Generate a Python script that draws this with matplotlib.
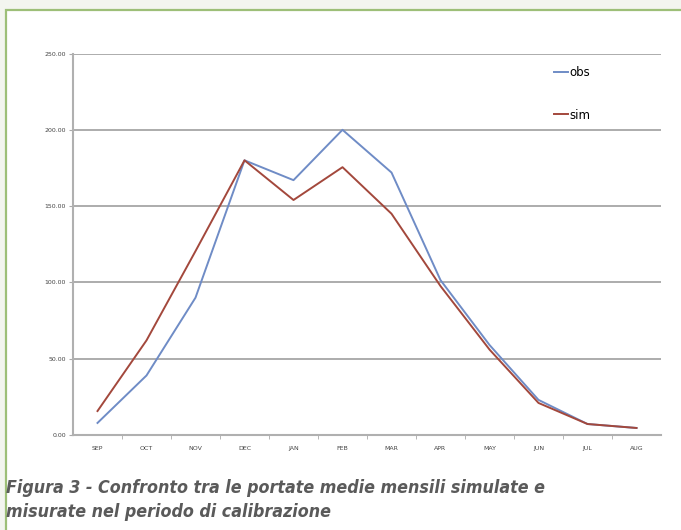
import matplotlib.pyplot as plt
from matplotlib.patches import Rectangle

months = ['SEP', 'OCT', 'NOV', 'DEC', 'JAN', 'FEB', 'MAR', 'APR', 'MAY', 'JUN', 'JUL', 'AUG']
obs = [7.9, 39, 90, 180, 167, 200, 172, 101.5, 59, 23, 7.2, 4.6]
sim = [15.7, 62, 120.5, 180, 154, 175.5, 145, 97.6, 56, 21, 7.2, 4.6]
yticks = [0, 50, 100, 150, 200, 250]

fig = plt.figure(figsize=(6.81, 5.30), dpi=100)
fig.patch.set_facecolor('#f3f5ef')

# green frame
fig.patches.append(Rectangle((6 / 681, -0.01), 1.0, 1 - 9.5 / 530 + 0.01,
                             transform=fig.transFigure, facecolor='white',
                             edgecolor='#9dbf78', linewidth=1.6, zorder=-5))

ax = fig.add_axes([73 / 681, 1 - 435 / 530, 588 / 681, 381.5 / 530])
ax.set_facecolor('none')
ax.set_zorder(2)

x = list(range(len(months)))
ax.plot(x, obs, color='#6f8cc6', lw=1.4, label='obs')
ax.plot(x, sim, color='#a3483c', lw=1.4, label='sim')

ax.set_xlim(-0.5, 11.5)
ax.set_ylim(0, 250)
ax.set_yticks(yticks)
ax.set_yticklabels(['%.2f' % v for v in yticks], fontsize=4.5, color='#444444')
ax.set_xticks(x)
ax.set_xticklabels(months, fontsize=4.5, color='#444444')
ax.set_xticks([i + 0.5 for i in range(11)], minor=True)
ax.tick_params(axis='x', which='major', length=0, pad=8)
ax.tick_params(axis='x', which='minor', length=3, color='#aaaaaa')
ax.tick_params(axis='y', length=3, color='#aaaaaa', pad=2)
ax.grid(axis='y', color='#a6a6a6', lw=1.3)
ax.set_axisbelow(True)
for s in ['top', 'right']:
    ax.spines[s].set_visible(False)
for s in ['left', 'bottom']:
    ax.spines[s].set_color('#b0b0b0')
    ax.spines[s].set_linewidth(1.5)

ax.legend(loc='upper left', bbox_to_anchor=(0.8, 0.995), frameon=False,
          handlelength=1.2, handletextpad=0.1, labelspacing=2.5, fontsize=8.5)

fig.text(6 / 681, 1 - 500 / 530,
         'Figura 3 - Confronto tra le portate medie mensili simulate e\n'
         'misurate nel periodo di calibrazione',
         family=['Liberation Sans Narrow', 'DejaVu Sans'], style='italic',
         stretch='condensed', weight='bold', fontsize=12.8, color='#5a5a5a',
         va='center', linespacing=1.4)

fig.savefig('out.png', dpi=100, facecolor=fig.get_facecolor())
